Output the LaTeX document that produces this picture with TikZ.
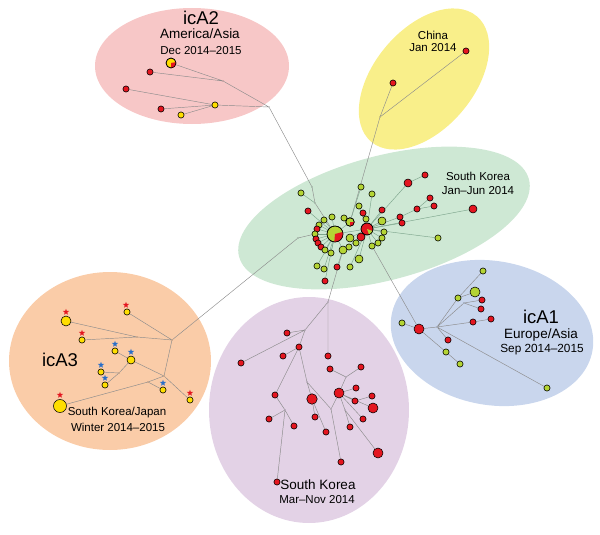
\documentclass[tikz,border=0pt]{standalone}
\usepackage{fontspec}
\setmainfont{Liberation Sans}
\usetikzlibrary{shapes.geometric}
\pgfdeclarelayer{back}\pgfdeclarelayer{mid}
\pgfsetlayers{back,mid,main}
\definecolor{cred}{RGB}{228,22,32}
\definecolor{cgrn}{RGB}{180,212,52}
\definecolor{cyel}{RGB}{255,222,0}
\definecolor{cblu}{RGB}{40,110,200}
\definecolor{epink}{RGB}{247,199,199}
\definecolor{eyel}{RGB}{249,239,138}
\definecolor{egrn}{RGB}{206,232,212}
\definecolor{eblu}{RGB}{201,214,237}
\definecolor{eora}{RGB}{250,204,168}
\definecolor{epur}{RGB}{227,210,230}
\definecolor{cedge}{RGB}{140,140,140}
\definecolor{gedge}{RGB}{125,165,140}
\tikzset{
 dotb/.style={circle,draw=black,line width=0.55pt,inner sep=0pt,minimum size=6.2pt},
 rd/.style={dotb,fill=cred},
 gd/.style={dotb,fill=cgrn},
 yd/.style={dotb,fill=cyel},
 med/.style={minimum size=8pt},
 big/.style={minimum size=10pt},
 br/.style={circle,fill=gray!60!black,inner sep=0pt,minimum size=1.4pt},
 edge/.style={draw=cedge,line width=0.45pt},
 gedg/.style={draw=gedge,line width=0.45pt},
 lbl/.style={inner sep=0pt,align=center,text=black},
 rstar/.style={star,star points=5,star point ratio=2.4,fill=cred,inner sep=0pt,minimum size=6.5pt},
 bstar/.style={rstar,fill=cblu}
}
\newcommand\mypie[5]{%
 \fill[#5] (#1.center) -- ++(#2:#4) arc[start angle=#2,end angle=#3,radius=#4] -- cycle;
 \draw[line width=0.55pt] (#1.center) circle[radius=#4];}
\newcommand\fs[1]{\fontsize{#1}{#1}\selectfont}
\begin{document}
\begin{tikzpicture}[x=1pt,y=-1pt]
\useasboundingbox (0,0) rectangle (600,535);
\begin{pgfonlayer}{back}
\fill[epink] (192,66) ellipse[x radius=97pt,y radius=58pt];
\fill[eyel,rotate around={50:(424,79)}] (424,79) ellipse[x radius=82pt,y radius=50pt];
\fill[egrn,rotate around={15:(384,218)}] (384,218) ellipse[x radius=150pt,y radius=62pt];
\fill[eblu,rotate around={-10:(492,333)}] (492,333) ellipse[x radius=102pt,y radius=72pt];
\fill[eora] (110,361) ellipse[x radius=101pt,y radius=89pt];
\fill[epur] (309,410) ellipse[x radius=100pt,y radius=113pt];
\end{pgfonlayer}

% labels
\node[lbl] (L1) at (201,18) {\fs{18.5}icA2};
\node[lbl] (L2) at (200,34) {\fs{13.5}America/Asia};
\node[lbl] (L3) at (201,51) {\fs{11.5}Dec 2014–2015};
\node[lbl] (L4) at (433,35) {\fs{11.5}China};
\node[lbl] (L5) at (433,48) {\fs{11.5}Jan 2014};
\node[lbl] (L6) at (478,176) {\fs{11.5}South Korea};
\node[lbl] (L7) at (478,191) {\fs{11.5}Jan–Jun 2014};
\node[lbl] (L8) at (541,317) {\fs{18.5}icA1};
\node[lbl] (L9) at (541,335) {\fs{13.5}Europe/Asia};
\node[lbl] (L10) at (542,350) {\fs{11.8}Sep 2014–2015};
\node[lbl] (L11) at (60,360) {\fs{18.5}icA3};
\node[lbl] (L12) at (117,413) {\fs{11.5}South Korea/Japan};
\node[lbl] (L13) at (118,427) {\fs{11.5}Winter 2014–2015};
\node[lbl] (L14) at (318,485) {\fs{13.5}South Korea};
\node[lbl] (L15) at (317,500) {\fs{11.5}Mar–Nov 2014};

% icA2
\node[yd,big] (apie) at (171,63) {};
\node[rd] (a1) at (150,72) {};
\node[rd] (a2) at (126,89) {};
\node[rd] (a3) at (161,109) {};
\node[yd] (a4) at (181,115) {};
\node[yd] (a5) at (215,105) {};
\node[br] (ab1) at (223,81) {};
\node[br] (ab2) at (269,107) {};

% China
\node[br] (c0) at (380,117) {};
\node[rd] (c1) at (393,83) {};
\node[rd] (c2) at (466,51) {};

% green cluster
\node[br] (gbr1) at (312,187) {};
\node[br] (gbr2) at (315,203) {};
\node[br] (gbr3) at (298,238) {};
\node[gd,minimum size=16pt] (P1) at (335,234) {};
\node[rd,minimum size=12pt] (P2) at (367,229) {};
\node[gd,minimum size=8.5pt] (P3) at (350,222) {};
\node[gd] (gA) at (301,193) {};
\node[rd] (gB) at (308,211) {};
\node[gd] (gC) at (324,220) {};
\node[gd] (gD) at (319,225) {};
\node[rd] (gE) at (317,229) {};
\node[gd] (gF) at (315,234) {};
\node[rd] (gG) at (316,239) {};
\node[rd] (gH) at (318,243) {};
\node[rd] (gI) at (321,247) {};
\node[gd] (gJ) at (325,250) {};
\node[gd] (gK) at (332,217) {};
\node[gd] (gL) at (344,218) {};
\node[gd,med] (gM) at (350,238) {};
\node[gd,med] (gN) at (343,250) {};
\node[gd] (gO) at (331,253) {};
\node[gd] (gP) at (349,247) {};
\node[gd] (gQ) at (356,243) {};
\node[rd,med] (gR) at (361,237) {};
\node[gd] (gS) at (366,219) {};
\node[rd] (gT) at (363,213) {};
\node[gd] (gU) at (359,206) {};
\node[gd] (gV) at (361,187) {};
\node[gd] (gW) at (372,194) {};
\node[rd] (gX) at (382,210) {};
\node[gd,med] (gY) at (382,221) {};
\node[gd] (gZ) at (384,232) {};
\node[gd] (ga) at (382,238) {};
\node[gd] (gb) at (378,243) {};
\node[gd] (gc) at (372,246) {};
\node[gd,med] (gdd) at (359,259) {};
\node[gd] (ge) at (350,267) {};
\node[rd] (gf) at (337,267) {};
\node[gd] (gg) at (324,269) {};
\node[gd] (gh) at (317,266) {};
\node[rd] (gi) at (325,281) {};
\node[rd,med] (gj) at (408,183) {};
\node[rd] (gk) at (425,175) {};
\node[rd] (gl) at (430,198) {};
\node[rd] (gm) at (434,206) {};
\node[rd] (gn) at (417,209) {};
\node[rd] (go) at (400,217) {};
\node[rd] (gp) at (402,223) {};
\node[rd,med] (gq) at (473,209) {};
\node[gd] (gr) at (438,238) {};

% icA1
\node[gd] (e0) at (402,323) {};
\node[rd,big] (eR) at (419,329) {};
\node[br] (eb1) at (437,327) {};
\node[br] (eb2) at (464,303) {};
\node[gd] (e1) at (483,271) {};
\node[gd] (e2) at (458,298) {};
\node[gd,big] (e3) at (475,292) {};
\node[rd] (e4) at (482,300) {};
\node[rd] (e5) at (481,309) {};
\node[rd] (e6) at (473,322) {};
\node[rd] (e7) at (491,319) {};
\node[rd] (e8) at (448,340) {};
\node[gd] (e9) at (446,352) {};
\node[gd] (e10) at (460,364) {};
\node[gd] (e11) at (547,388) {};

% icA3
\node[yd,big] (t1) at (66,321) {};
\node[yd] (t2) at (127,312) {};
\node[yd] (t3) at (82,340) {};
\node[yd] (t4) at (115,351) {};
\node[yd,med] (t5) at (131,360) {};
\node[yd] (t6) at (101,372) {};
\node[yd] (t7) at (105,385) {};
\node[yd] (t8) at (163,390) {};
\node[yd] (t9) at (190,400) {};
\node[yd,minimum size=13pt] (t10) at (60,406) {};
\node[br] (tA) at (172,340) {};
\node[br] (tB) at (137,337) {};
\node[br] (tC) at (164,376) {};
\node[br] (tD) at (148,382) {};
\node[br] (tE) at (119,373) {};
\node[rstar] (s1) at (66,312) {};
\node[rstar] (s2) at (126,305) {};
\node[rstar] (s3) at (82,333) {};
\node[bstar] (s4) at (115,344) {};
\node[bstar] (s5) at (131,352) {};
\node[bstar] (s6) at (101,365) {};
\node[bstar] (s7) at (105,378) {};
\node[bstar] (s8) at (163,383) {};
\node[rstar] (s9) at (190,393) {};
\node[rstar] (s10) at (60,395) {};

% purple
\node[br] (bA) at (328,302) {};
\node[br] (bB) at (305,330) {};
\node[rd] (p1) at (287,333) {};
\node[rd] (p2) at (299,347) {};
\node[rd] (p3) at (283,356) {};
\node[rd] (p4) at (241,363) {};
\node[rd] (p5) at (328,356) {};
\node[rd] (p6) at (330,369) {};
\node[rd] (p7) at (361,367) {};
\node[br] (bC) at (346,377) {};
\node[rd] (p8) at (356,388) {};
\node[rd,big] (p9) at (339,393) {};
\node[rd] (p10) at (355,401) {};
\node[rd] (p11) at (372,396) {};
\node[rd,big] (p12) at (373,408) {};
\node[rd] (p13) at (363,419) {};
\node[rd] (p14) at (350,427) {};
\node[rd,big] (p15) at (378,453) {};
\node[rd] (p16) at (341,462) {};
\node[rd,minimum size=10.5pt] (p17) at (312,399) {};
\node[rd] (p18) at (315,417) {};
\node[rd] (p19) at (326,432) {};
\node[br] (bD) at (307,382) {};
\node[br] (bG) at (331,409) {};
\node[rd] (p20) at (275,395) {};
\node[br] (bE) at (285,410) {};
\node[rd] (p21) at (269,419) {};
\node[rd] (p22) at (294,426) {};
\node[rd] (p23) at (277,482) {};
\node[br] (bF) at (345,410) {};

% pies
\mypie{apie}{-90}{10}{5pt}{cred}
\mypie{P1}{-95}{15}{8pt}{cred}
\mypie{P2}{-70}{-20}{6pt}{cgrn}
\mypie{P3}{-90}{0}{4.25pt}{cred}

\begin{pgfonlayer}{mid}
% icA2 edges
\draw[edge] (apie)--(ab1) (a1)--(ab1) (ab1)--(ab2) (a2)--(a5) (a3)--(a5) (a4)--(a5) (a5)--(ab2) (ab2)--(gbr1);
\draw[edge] (gbr1)--(gbr2) (gbr2)--(P1);
% China
\draw[edge] (c0)--(c1) (c0)--(c2) (c0)--(P3);
% green
\draw[gedg] (gA)--(gbr2);
\foreach \n in {gB,gC,gD,gE,gF,gG,gH,gI,gJ,gK,gO,gh,gg,gi,P2,P3}{\draw[gedg] (P1)--(\n);}
\foreach \n in {gL,gV}{\draw[gedg] (P3)--(\n);}
\foreach \n in {gM,gP,gQ,gR,gS,gT,gU,gW,gX,gY,gZ,ga,gb,gc,gdd,ge,gj,go,gp,gq,gr}{\draw[gedg] (P2)--(\n);}
\draw[gedg] (gj)--(gk) (go)--(gn) (gn)--(gl) (gn)--(gm) (gf)--(gN) (gN)--(P1);
% icA3 to green
\draw[edge] (tA)--(gbr3) (gbr3)--(gF);
% icA1
\draw[edge] (eR)--(gc);
\draw[edge] (e0)--(eR) (eR)--(eb1) (eb1)--(e2) (e2)--(e1) (e2)--(e3) (eb1)--(eb2) (eb2)--(e4) (eb2)--(e5)
 (eb1)--(e6) (e6)--(e7) (eb1)--(e11) (eR)--(e9) (e9)--(e10) (eb1)--(e8);
% icA3
\draw[edge] (t1)--(tB) (t3)--(tB) (tB)--(tA) (t2)--(tA) (tA)--(tC) (t5)--(tC) (tC)--(t9) (tC)--(tD)
 (tD)--(t10) (tD)--(t8) (t4)--(t5) (t5)--(tE) (tE)--(t6) (tE)--(t7);
% purple
\draw[edge] (gN)--(bA) (bA)--(bB) (bB)--(p1) (bB)--(p4) (bA)--(p5) (bB)--(p2) (p2)--(p3) (p2)--(p20)
 (p20)--(bE) (bE)--(p21) (bE)--(p22) (bE)--(p23) (p2)--(bD) (bD)--(p17) (p17)--(p18) (p17)--(p19)
 (bD)--(bG) (bG)--(p9) (bG)--(p16) (p9)--(bC) (bC)--(p6) (bC)--(p7) (p9)--(p8) (p9)--(p10)
 (p10)--(p11) (p9)--(p12) (p9)--(p13) (p9)--(bF) (bF)--(p14) (bF)--(p15);
\end{pgfonlayer}
\end{tikzpicture}
\end{document}
